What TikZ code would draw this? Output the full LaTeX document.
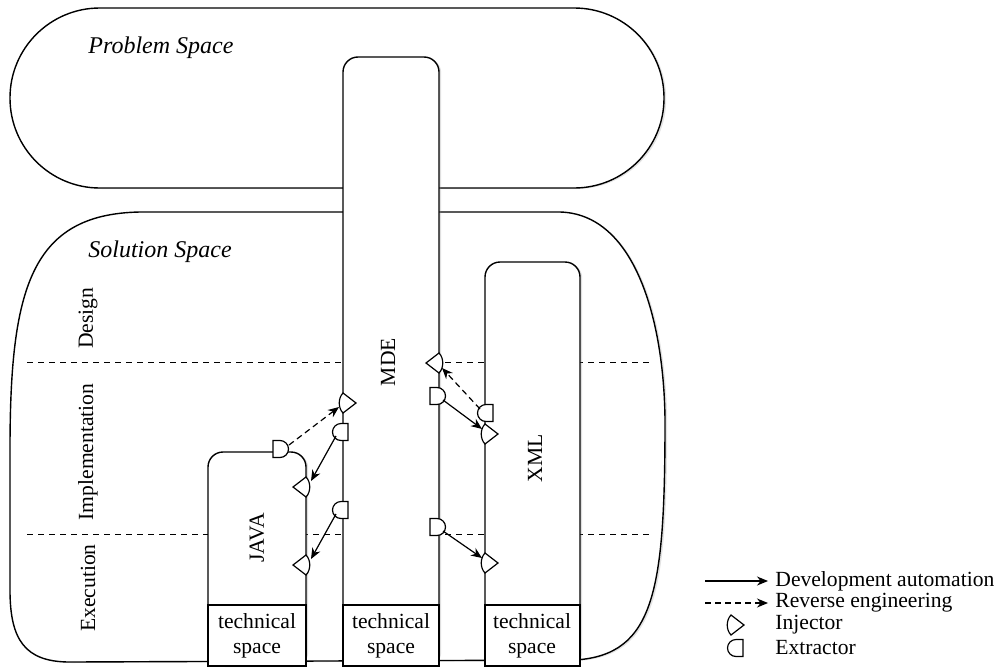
\documentclass[tikz,border=0pt]{standalone}
\usepackage{fontspec}
\setmainfont{Liberation Serif}
\usetikzlibrary{arrows.meta,shadows}
\begin{document}
\begin{tikzpicture}[x=0.5pt,y=-0.5pt,
  blob/.style={draw,line width=0.7pt,fill=white,drop shadow={shadow xshift=1.1pt,shadow yshift=-0.5pt,opacity=0.22}},
  colbox/.style={draw,line width=0.7pt,fill=white,rounded corners=7.5pt,drop shadow={shadow xshift=1.1pt,shadow yshift=-0.5pt,opacity=0.25}},
  techbox/.style={draw,line width=0.7pt,fill=white},
  phase/.style={draw,line width=0.5pt,dash pattern=on 3pt off 2.5pt},
  devarrow/.style={draw,line width=0.6pt,-{Stealth[length=5.5pt,width=4.5pt]}},
  revarrow/.style={draw,line width=0.6pt,dash pattern=on 3pt off 2pt,-{Stealth[length=5.5pt,width=4.5pt]}},
  lbl/.style={font=\fontsize{10.8}{12.5}\selectfont,inner sep=0pt},
  ital/.style={font=\fontsize{12}{14}\selectfont\itshape,inner sep=0pt},
  injector/.pic={\draw[line width=0.6pt,fill=white] (0,-10) -- (13,0) -- (0,10) .. controls (-5,5) and (-5,-5) .. (0,-10) -- cycle;},
  extractor/.pic={\draw[line width=0.6pt,fill=white] (0,-8.5) -- (7,-8.5) .. controls (11.7,-8.5) and (15.5,-4.7) .. (15.5,0) .. controls (15.5,4.7) and (11.7,8.5) .. (7,8.5) -- (0,8.5) -- cycle;}
]
\useasboundingbox (0,0) rectangle (999,669);

% Problem space
\path[blob,rounded corners=44.9pt] (10,8) rectangle (664,188);
\node[ital,anchor=west] (prob) at (88,48) {Problem Space};

% Solution space
\path[blob] (140,212) -- (560,212) .. controls (635,214) and (664,320) .. (665,420)
  .. controls (665,590) and (655,655) .. (575,660) -- (70,662)
  .. controls (25,662) and (10,640) .. (10,590) -- (10,450)
  .. controls (10,290) and (30,214) .. (140,212) -- cycle;
\node[ital,anchor=west] (sol) at (88,252) {Solution Space};

% phase separators
\draw[phase] (27,362) -- (652,362);
\draw[phase] (27,534) -- (652,534);
\node[lbl,rotate=90] (design) at (88,318) {Design};
\node[lbl,rotate=90] (impl) at (88,452) {Implementation};
\node[lbl,rotate=90] (exec) at (88,588) {Execution};

% columns
\path[colbox] (343,666) rectangle (439,57);
\path[colbox] (208,666) rectangle (306,452);
\path[colbox] (485,666) rectangle (580,262);
\path[techbox] (343,605) rectangle (439,666);
\path[techbox] (208,605) rectangle (306,666);
\path[techbox] (485,605) rectangle (580,666);
\node[lbl,align=center] (ts1) at (257,636) {technical\\space};
\node[lbl,align=center] (ts2) at (391,636) {technical\\space};
\node[lbl,align=center] (ts3) at (532,636) {technical\\space};
\node[lbl,rotate=90] (mde) at (388,362) {MDE};
\node[lbl,rotate=90] (java) at (257,538) {JAVA};
\node[lbl,rotate=90] (xml) at (535,458) {XML};

% injectors
\pic at (343,403) {injector};
\pic[rotate=180] at (306,487) {injector};
\pic[rotate=180] at (306,565) {injector};
\pic[rotate=180] at (439,363) {injector};
\pic at (485,434) {injector};
\pic at (485,563) {injector};
% extractors
\pic at (273,449) {extractor};
\pic[rotate=180] at (348,432) {extractor};
\pic[rotate=180] at (348,510) {extractor};
\pic at (430,396) {extractor};
\pic at (430,527) {extractor};
\pic[rotate=180] at (493,413) {extractor};

% ports
\coordinate (e1) at (289,445);
\coordinate (i1) at (339,407);
\coordinate (e2) at (336,436);
\coordinate (i2) at (311,481);
\coordinate (e3) at (336,514);
\coordinate (i3) at (311,559);
\coordinate (e6) at (480,409);
\coordinate (i4) at (442,368);
\coordinate (e4) at (443,400);
\coordinate (i5) at (482,429);
\coordinate (e5) at (443,531);
\coordinate (i6) at (482,558);

\draw[revarrow] (e1) -- (i1);
\draw[devarrow] (e2) -- (i2);
\draw[devarrow] (e3) -- (i3);
\draw[revarrow] (e6) -- (i4);
\draw[devarrow] (e4) -- (i5);
\draw[devarrow] (e5) -- (i6);

% legend
\coordinate (la1) at (705,581);
\coordinate (lb1) at (768,581);
\coordinate (la2) at (705,603);
\coordinate (lb2) at (768,603);
\draw[devarrow] (la1) -- (lb1);
\draw[revarrow] (la2) -- (lb2);
\pic at (731,625) {injector};
\pic[rotate=180] at (743,648) {extractor};
\node[lbl,anchor=west] (lg1) at (775,581) {Development automation};
\node[lbl,anchor=west] (lg2) at (775,603) {Reverse engineering};
\node[lbl,anchor=west] (lg3) at (775,625) {Injector};
\node[lbl,anchor=west] (lg4) at (775,648) {Extractor};
\end{tikzpicture}
\end{document}
